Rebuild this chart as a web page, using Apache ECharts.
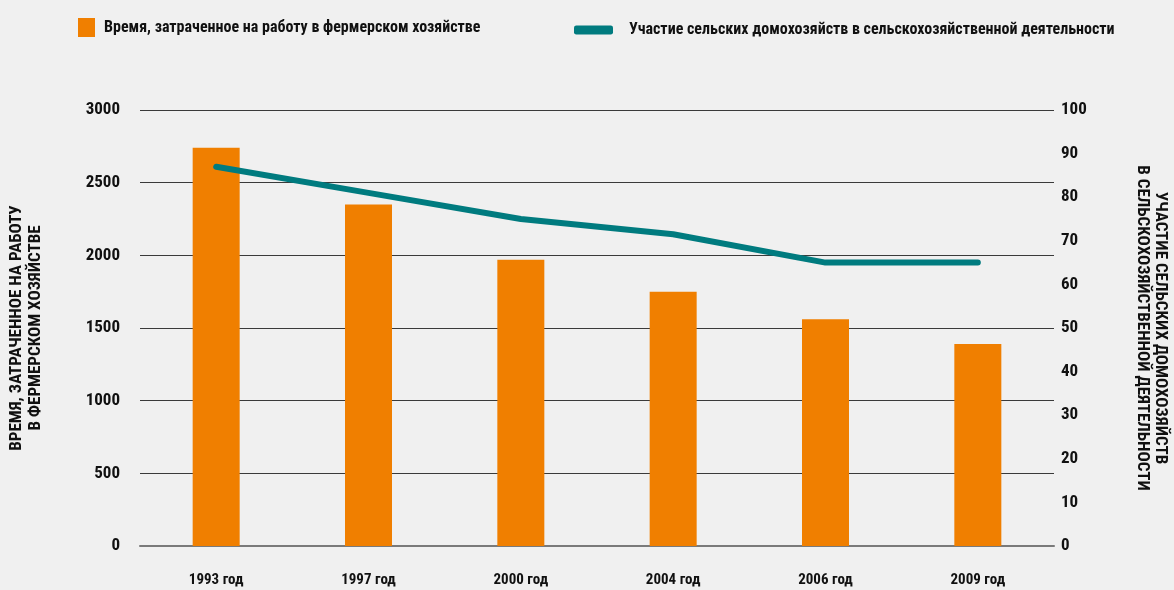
<!DOCTYPE html>
<html>
<head>
<meta charset="utf-8">
<script src="https://cdn.jsdelivr.net/npm/echarts@6/dist/echarts.min.js"></script>
<style>
  html, body { margin: 0; padding: 0; background: #f0f0f0; }
  #chart { width: 1174px; height: 590px; }
</style>
</head>
<body>
<div id="chart"></div>
<script>
// Years of the survey
const years = ['1993 год', '1997 год', '2000 год', '2004 год', '2006 год', '2009 год'];
// Hours spent on farm work (left axis)
const farmHours = [2740, 2350, 1970, 1750, 1560, 1390];
// Share of rural households engaged in farming, % (right axis)
const participation = [87, 81, 75, 71.5, 65, 65];

const barName = 'Время, затраченное на работу в фермерском хозяйстве';
const lineName = 'Участие сельских домохозяйств в сельскохозяйственной деятельности';
const leftAxisName = 'ВРЕМЯ, ЗАТРАЧЕННОЕ НА РАБОТУ\nВ ФЕРМЕРСКОМ ХОЗЯЙСТВЕ';
const rightAxisName = 'УЧАСТИЕ СЕЛЬСКИХ ДОМОХОЗЯЙСТВ\nВ СЕЛЬСКОХОЗЯЙСТВЕННОЙ ДЕЯТЕЛЬНОСТИ';

const FONT = '"Liberation Sans Narrow", "Roboto Condensed", "Arial Narrow", sans-serif';
const ORANGE = '#f07f00';
const TEAL = '#007b7f';

const chart = echarts.init(document.getElementById('chart'), null, { renderer: 'canvas' });

chart.setOption({
  backgroundColor: '#f0f0f0',
  animation: false,
  textStyle: { fontFamily: FONT, fontWeight: 'bold', color: '#111' },
  legend: [
    {
      data: [{ name: barName, icon: 'rect' }],
      left: 78, top: 18, padding: 0,
      itemWidth: 17, itemHeight: 19, itemGap: 10,
      textStyle: { fontFamily: FONT, fontWeight: 'bold', fontSize: 16, color: '#111', padding: [0, 0, 0, 4] }
    },
    {
      data: [{ name: lineName, icon: 'roundRect' }],
      left: 574, top: 22, padding: 0,
      itemWidth: 39, itemHeight: 9, itemGap: 10,
      textStyle: { fontFamily: FONT, fontWeight: 'bold', fontSize: 16, color: '#111', padding: [0, 0, 0, 11] }
    }
  ],
  grid: { left: 140, right: 120, top: 110, bottom: 44, containLabel: false, outerBoundsMode: 'none' },
  xAxis: {
    type: 'category',
    data: years,
    axisTick: { show: false },
    axisLine: { lineStyle: { color: '#7a7a7a', width: 2 } },
    axisLabel: { fontFamily: FONT, fontWeight: 'bold', fontSize: 15, color: '#111', margin: 27 }
  },
  yAxis: [
    {
      type: 'value',
      min: 0, max: 3000, interval: 500,
      name: leftAxisName,
      nameLocation: 'middle',
      nameRotate: 90,
      nameGap: 95,
      nameMoveOverlap: false,
      nameTextStyle: { fontFamily: FONT, fontWeight: 'bold', fontSize: 17, color: '#111', lineHeight: 19 },
      axisLine: { show: false },
      axisTick: { show: false },
      axisLabel: { fontFamily: FONT, fontWeight: 'bold', fontSize: 17, color: '#111', margin: 20, formatter: v => String(v) },
      splitLine: { lineStyle: { color: '#3a3a3a', width: 1 } }
    },
    {
      type: 'value',
      min: 0, max: 100, interval: 10,
      name: rightAxisName,
      nameLocation: 'middle',
      nameRotate: -90,
      nameGap: 79,
      nameMoveOverlap: false,
      nameTextStyle: { fontFamily: FONT, fontWeight: 'bold', fontSize: 17, color: '#111', lineHeight: 18 },
      axisLine: { show: false },
      axisTick: { show: false },
      axisLabel: { fontFamily: FONT, fontWeight: 'bold', fontSize: 17, color: '#111', margin: 7, formatter: v => String(v) },
      splitLine: { show: false }
    }
  ],
  series: [
    {
      name: barName,
      type: 'bar',
      data: farmHours,
      yAxisIndex: 0,
      barWidth: 47,
      itemStyle: { color: ORANGE }
    },
    {
      name: lineName,
      type: 'line',
      data: participation,
      yAxisIndex: 1,
      showSymbol: false,
      symbol: 'none',
      itemStyle: { color: TEAL },
      lineStyle: { color: TEAL, width: 6, cap: 'round', join: 'round' }
    }
  ]
});
</script>
</body>
</html>
